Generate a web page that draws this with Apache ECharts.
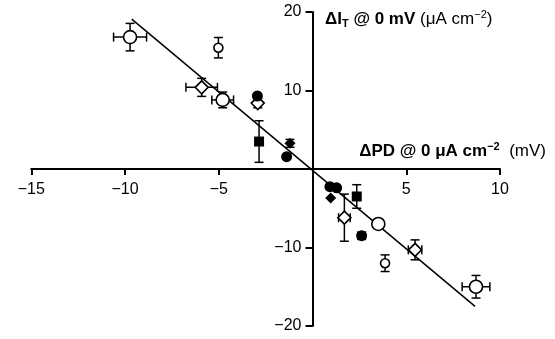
<!DOCTYPE html>
<html>
<head>
<meta charset="utf-8">
<script src="https://cdn.jsdelivr.net/npm/echarts@6/dist/echarts.min.js"></script>
<style>
  html, body { margin: 0; padding: 0; background: #fff; }
  #chart { width: 555px; height: 339px; }
</style>
</head>
<body>
<div id="chart"></div>
<script>
// each point: [ΔPD, ΔIT, xErr, yErr]
const openCircleBig = [[-9.73, 16.8, 0.88, 1.75], [-4.79, 8.8, 0.58, 1.0], [3.51, -7.0, 0, 0], [8.72, -15.0, 0.74, 1.44]];
const openCircleSmall = [[-5.02, 15.45, 0, 1.3], [3.87, -12.0, 0, 1.06]];
const openDiamond = [[-5.91, 10.4, 0.84, 1.15], [-2.92, 8.4, 0, 0.6], [1.7, -6.2, 0.31, 3.0], [5.47, -10.3, 0.36, 1.27]];
const filledCircle = [[-2.94, 9.3, 0, 0], [-1.38, 1.57, 0, 0], [0.93, -2.25, 0, 0], [1.29, -2.4, 0, 0], [2.62, -8.5, 0.2, 0]];
const filledDiamond = [[-1.2, 3.27, 0, 0.5], [0.97, -3.7, 0, 0]];
const filledSquare = [[-2.85, 3.5, 0, 2.65], [2.36, -3.5, 0, 1.5]];
// regression line end points
const fitLine = [[-9.64, 19.1], [8.67, -17.5]];

const xMin = -15, xMax = 10, xStep = 5;
const yMin = -20, yMax = 20, yStep = 10;

const allPoints = [].concat(openCircleBig, openCircleSmall, openDiamond, filledCircle, filledDiamond, filledSquare);

const fmt = v => v === 0 ? '' : String(v).replace('-', '\u2212');

// grid box
const gLeft = 31.25, gRight = 55, gTop = 12, gBottom = 13;
const gW = 555 - gLeft - gRight, gH = 339 - gTop - gBottom;
// move the axes so they cross at the origin
const xAxisOffset = -gH * (0 - yMin) / (yMax - yMin);
const yAxisOffset = -gW * (0 - xMin) / (xMax - xMin);

function errorBars(params, api) {
    const x = api.value(0), y = api.value(1), ex = api.value(2), ey = api.value(3);
    const cap = 4.5;
    const st = { stroke: '#000', lineWidth: 1.5 };
    const kids = [];
    if (ex > 0) {
        const a = api.coord([x - ex, y]), b = api.coord([x + ex, y]);
        kids.push({ type: 'line', shape: { x1: a[0], y1: a[1], x2: b[0], y2: b[1] }, style: st });
        kids.push({ type: 'line', shape: { x1: a[0], y1: a[1] - cap, x2: a[0], y2: a[1] + cap }, style: st });
        kids.push({ type: 'line', shape: { x1: b[0], y1: b[1] - cap, x2: b[0], y2: b[1] + cap }, style: st });
    }
    if (ey > 0) {
        const a = api.coord([x, y - ey]), b = api.coord([x, y + ey]);
        kids.push({ type: 'line', shape: { x1: a[0], y1: a[1], x2: b[0], y2: b[1] }, style: st });
        kids.push({ type: 'line', shape: { x1: a[0] - cap, y1: a[1], x2: a[0] + cap, y2: a[1] }, style: st });
        kids.push({ type: 'line', shape: { x1: b[0] - cap, y1: b[1], x2: b[0] + cap, y2: b[1] }, style: st });
    }
    return { type: 'group', children: kids };
}

const openStyle = { color: '#fff', borderColor: '#000', borderWidth: 1.6, opacity: 1 };
const fillStyle = { color: '#000', opacity: 1 };
const ff = 'Liberation Sans';

const chart = echarts.init(document.getElementById('chart'));
chart.setOption({
    animation: false,
    textStyle: { fontFamily: 'Liberation Sans, Arial, sans-serif' },
    grid: { left: gLeft, right: gRight, top: gTop, bottom: gBottom, containLabel: false },
    xAxis: {
        type: 'value', min: xMin, max: xMax, interval: xStep,
        position: 'bottom', offset: xAxisOffset,
        axisLine: { onZero: false, lineStyle: { color: '#000', width: 2 } },
        axisTick: { show: true, length: 6, lineStyle: { color: '#000', width: 2 } },
        axisLabel: { formatter: fmt, color: '#000', fontSize: 16, margin: 13 },
        splitLine: { show: false }
    },
    yAxis: {
        type: 'value', min: yMin, max: yMax, interval: yStep,
        position: 'left', offset: yAxisOffset,
        axisLine: { onZero: false, lineStyle: { color: '#000', width: 2 } },
        axisTick: { show: true, length: 7, lineStyle: { color: '#000', width: 2 } },
        axisLabel: { formatter: fmt, color: '#000', fontSize: 16, margin: 11 },
        splitLine: { show: false }
    },
    graphic: [
        {
            type: 'text', left: 325, top: 9,
            style: {
                text: '{b|ΔI}{s|T}{b| @ 0 mV}{n| (μA cm}{p|−2}{n|)}',
                rich: {
                    b: { fontSize: 17, fontWeight: 'bold', fill: '#000', fontFamily: ff },
                    s: { fontSize: 11, fontWeight: 'bold', fill: '#000', padding: [9, 0, 0, 0], fontFamily: ff },
                    n: { fontSize: 17, fill: '#000', fontFamily: ff },
                    p: { fontSize: 11, fill: '#000', padding: [0, 0, 9, 0], fontFamily: ff }
                }
            }
        },
        {
            type: 'text', right: 9, top: 141,
            style: {
                text: '{b|ΔPD @ 0 μA cm}{p|−2}{n|  (mV)}',
                rich: {
                    b: { fontSize: 17, fontWeight: 'bold', fill: '#000', fontFamily: ff },
                    p: { fontSize: 11, fontWeight: 'bold', fill: '#000', padding: [0, 0, 9, 0], fontFamily: ff },
                    n: { fontSize: 17, fill: '#000', fontFamily: ff }
                }
            }
        }
    ],
    series: [
        { type: 'line', data: fitLine, symbol: 'none', lineStyle: { color: '#000', width: 1.5 }, z: 1 },
        { type: 'custom', data: allPoints, renderItem: errorBars, z: 2 },
        { type: 'scatter', data: openCircleBig, symbol: 'circle', symbolSize: 13, itemStyle: openStyle, z: 3 },
        { type: 'scatter', data: openCircleSmall, symbol: 'circle', symbolSize: 9, itemStyle: openStyle, z: 3 },
        { type: 'scatter', data: openDiamond, symbol: 'diamond', symbolSize: 13, itemStyle: openStyle, z: 3 },
        { type: 'scatter', data: filledCircle, symbol: 'circle', symbolSize: 11, itemStyle: fillStyle, z: 4 },
        { type: 'scatter', data: filledDiamond, symbol: 'diamond', symbolSize: 11, itemStyle: fillStyle, z: 4 },
        { type: 'scatter', data: filledSquare, symbol: 'rect', symbolSize: 10, itemStyle: fillStyle, z: 4 }
    ]
});
</script>
</body>
</html>
